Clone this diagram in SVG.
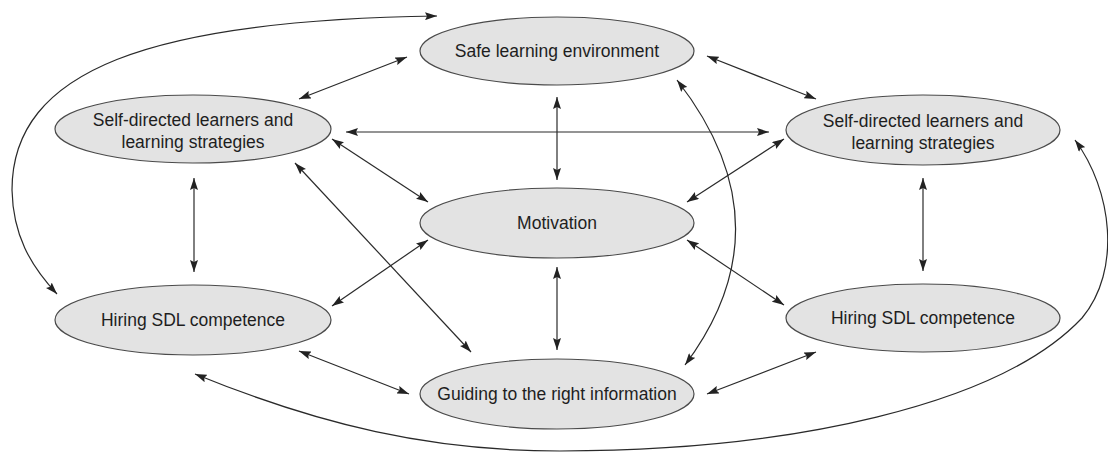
<svg xmlns="http://www.w3.org/2000/svg" width="1108" height="452" viewBox="0 0 1108 452">
  <defs>
    <marker id="arrow" viewBox="0 0 12 8" refX="12" refY="4" markerWidth="12" markerHeight="8" markerUnits="userSpaceOnUse" orient="auto-start-reverse">
      <path d="M0,0 L12,4 L0,8 L2,4 z" fill="#222"/>
    </marker>
    <style>
      .node ellipse { fill: #e3e3e3; stroke: #4a4a4a; stroke-width: 1.2; }
      .node text { font-family: "Liberation Sans", Arial, sans-serif; font-size: 17.5px; fill: #1e1e1e; text-anchor: middle; }
      #connectors line, #connectors path { fill: none; stroke: #2a2a2a; stroke-width: 1.2; marker-start: url(#arrow); marker-end: url(#arrow); }
    </style>
  </defs>

  <rect width="1108" height="452" fill="#fff"/>

  <!-- connectors -->
  <g id="connectors">
    <line x1="407" y1="57" x2="299" y2="99"/>
    <line x1="707" y1="56" x2="816" y2="99"/>
    <line x1="346" y1="132" x2="769" y2="132"/>
    <line x1="557" y1="97" x2="557" y2="180"/>
    <line x1="332" y1="139" x2="428" y2="202"/>
    <line x1="784" y1="139" x2="687" y2="202"/>
    <line x1="194" y1="178" x2="194" y2="272"/>
    <line x1="923" y1="178" x2="923" y2="271"/>
    <line x1="295" y1="163" x2="471" y2="352"/>
    <line x1="428" y1="240" x2="332" y2="306"/>
    <line x1="687" y1="240" x2="784" y2="305"/>
    <line x1="557" y1="267" x2="557" y2="350"/>
    <line x1="299" y1="351" x2="409" y2="394"/>
    <line x1="707" y1="394" x2="816" y2="352"/>
    <path d="M677,80 Q790,225 685,365"/>
    <path d="M437,16 C150,20 12,70 12,190 C13,235 30,265 57,294"/>
    <path d="M195,374 C320,425 430,451 560,451 C790,451 1000,405 1082,318 C1122,270 1112,190 1075,140"/>
  </g>

  <g id="safe-environment" class="node">
    <ellipse cx="557" cy="51" rx="137" ry="34"/>
    <text x="557" y="57">Safe learning environment</text>
  </g>

  <g id="sdl-left" class="node">
    <ellipse cx="193" cy="129" rx="138" ry="34"/>
    <text x="193" y="126">Self-directed learners and</text>
    <text x="193" y="148">learning strategies</text>
  </g>

  <g id="sdl-right" class="node">
    <ellipse cx="923" cy="130" rx="137" ry="35"/>
    <text x="923" y="127">Self-directed learners and</text>
    <text x="923" y="149">learning strategies</text>
  </g>

  <g id="motivation" class="node">
    <ellipse cx="557" cy="223" rx="137" ry="35"/>
    <text x="557" y="229">Motivation</text>
  </g>

  <g id="hiring-left" class="node">
    <ellipse cx="193" cy="320" rx="138" ry="35"/>
    <text x="193" y="326">Hiring SDL competence</text>
  </g>

  <g id="hiring-right" class="node">
    <ellipse cx="923" cy="318" rx="137" ry="34"/>
    <text x="923" y="324">Hiring SDL competence</text>
  </g>

  <g id="guiding" class="node">
    <ellipse cx="557" cy="394" rx="137" ry="35"/>
    <text x="557" y="400">Guiding to the right information</text>
  </g>
</svg>
